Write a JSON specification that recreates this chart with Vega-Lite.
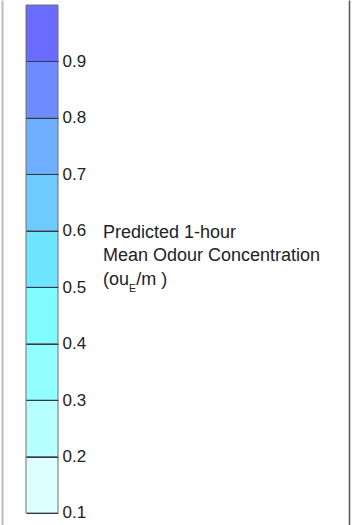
{
  "$schema": "https://vega.github.io/schema/vega-lite/v6.json",
  "width": 32,
  "height": 525,
  "autosize": {"type": "none"},
  "padding": {"left": 26, "right": 303, "top": 0, "bottom": 0},
  "background": "white",
  "config": {"view": {"stroke": null}, "font": "Liberation Sans"},
  "data": {
    "values": [
      {"lo": 0.1, "hi": 0.2, "color": "#dcffff"},
      {"lo": 0.2, "hi": 0.3, "color": "#b8ffff"},
      {"lo": 0.3, "hi": 0.4, "color": "#94ffff"},
      {"lo": 0.4, "hi": 0.5, "color": "#80fcff"},
      {"lo": 0.5, "hi": 0.6, "color": "#6ee6ff"},
      {"lo": 0.6, "hi": 0.7, "color": "#6ecaff"},
      {"lo": 0.7, "hi": 0.8, "color": "#6eb0ff"},
      {"lo": 0.8, "hi": 0.9, "color": "#6e8cff"},
      {"lo": 0.9, "hi": 1.0, "color": "#6b6bff"}
    ]
  },
  "layer": [
    {
      "mark": {"type": "rect", "stroke": "#6e6e6e", "strokeWidth": 1},
      "encoding": {
        "y": {
          "field": "lo",
          "type": "quantitative",
          "scale": {"domain": [0.0787, 1.0089], "nice": false, "zero": false},
          "axis": {
            "orient": "right",
            "values": [0.1, 0.2, 0.3, 0.4, 0.5, 0.6, 0.7, 0.8, 0.9],
            "format": ".1f",
            "domain": false,
            "ticks": false,
            "tickSize": 0,
            "labelPadding": 4,
            "labelFontSize": 17,
            "labelColor": "#222222",
            "grid": true,
            "gridColor": "#2b3d55",
            "gridWidth": 1,
            "zindex": 1,
            "title": ["Predicted 1-hour", "Mean Odour Concentration", "(ou\u2009\u2009/m )"],
            "titleAngle": 0,
            "titleAlign": "left",
            "titleBaseline": "alphabetic",
            "titleX": 44.5,
            "titleY": 237,
            "titleFontSize": 18,
            "titleFontWeight": "normal",
            "titleLineHeight": 23.5,
            "titleColor": "#222222"
          }
        },
        "y2": {"field": "hi"},
        "color": {"field": "color", "type": "nominal", "scale": null, "legend": null}
      }
    },
    {
      "mark": {"type": "rule", "opacity": 0},
      "encoding": {
        "y": {
          "field": "lo",
          "type": "quantitative",
          "axis": {
            "orient": "right",
            "offset": 291,
            "domain": true,
            "domainColor": "#555555",
            "domainWidth": 1.5,
            "ticks": false,
            "labels": false,
            "grid": false,
            "title": "E",
            "titleAngle": 0,
            "titleAlign": "left",
            "titleBaseline": "alphabetic",
            "titleX": -220.4,
            "titleY": 291,
            "titleFontSize": 10.5,
            "titleFontWeight": "normal",
            "titleColor": "#222222"
          }
        }
      }
    },
    {
      "mark": {"type": "rule", "opacity": 0},
      "encoding": {
        "y": {
          "field": "lo",
          "type": "quantitative",
          "axis": {
            "orient": "left",
            "offset": 24,
            "domain": true,
            "domainColor": "#bbbbbb",
            "domainWidth": 2,
            "ticks": false,
            "labels": false,
            "grid": false,
            "title": null
          }
        }
      }
    }
  ],
  "resolve": {"axis": {"y": "independent"}}
}
